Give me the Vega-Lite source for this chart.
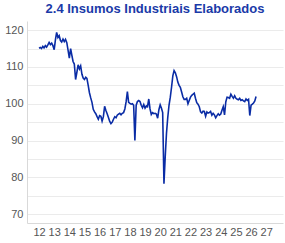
{
  "$schema": "https://vega.github.io/schema/vega-lite/v6.json",
  "autosize": {"type": "none"},
  "width": 256,
  "height": 202,
  "padding": {"left": 27, "top": 21, "right": 2, "bottom": 20},
  "title": {"text": "2.4 Insumos Industriais Elaborados", "font": "Liberation Sans", "fontSize": 13, "fontWeight": "bold", "color": "#1a3aa8", "anchor": "middle", "offset": 5},
  "config": {"view": {"stroke": null}},
  "data": {"values": [
    {"date": "2012-01-01", "v": 115.1}, {"date": "2012-02-01", "v": 115.3}, {"date": "2012-03-01", "v": 115.0}, {"date": "2012-04-01", "v": 115.6}, {"date": "2012-05-01", "v": 115.2}, {"date": "2012-06-01", "v": 115.8}, {"date": "2012-07-01", "v": 115.4}, {"date": "2012-08-01", "v": 116.0}, {"date": "2012-09-01", "v": 116.7}, {"date": "2012-10-01", "v": 116.1}, {"date": "2012-11-01", "v": 116.5}, {"date": "2012-12-01", "v": 115.8},
    {"date": "2013-01-01", "v": 114.7}, {"date": "2013-02-01", "v": 117.5}, {"date": "2013-03-01", "v": 119.4}, {"date": "2013-04-01", "v": 118.0}, {"date": "2013-05-01", "v": 118.5}, {"date": "2013-06-01", "v": 117.2}, {"date": "2013-07-01", "v": 116.8}, {"date": "2013-08-01", "v": 117.6}, {"date": "2013-09-01", "v": 116.9}, {"date": "2013-10-01", "v": 117.5}, {"date": "2013-11-01", "v": 116.6}, {"date": "2013-12-01", "v": 114.6},
    {"date": "2014-01-01", "v": 112.4}, {"date": "2014-02-01", "v": 115.0}, {"date": "2014-03-01", "v": 113.3}, {"date": "2014-04-01", "v": 111.5}, {"date": "2014-05-01", "v": 110.8}, {"date": "2014-06-01", "v": 106.6}, {"date": "2014-07-01", "v": 108.5}, {"date": "2014-08-01", "v": 110.6}, {"date": "2014-09-01", "v": 109.5}, {"date": "2014-10-01", "v": 110.3}, {"date": "2014-11-01", "v": 108.0}, {"date": "2014-12-01", "v": 107.0},
    {"date": "2015-01-01", "v": 106.6}, {"date": "2015-02-01", "v": 107.2}, {"date": "2015-03-01", "v": 106.9}, {"date": "2015-04-01", "v": 105.0}, {"date": "2015-05-01", "v": 103.0}, {"date": "2015-06-01", "v": 101.6}, {"date": "2015-07-01", "v": 100.4}, {"date": "2015-08-01", "v": 98.5}, {"date": "2015-09-01", "v": 97.8}, {"date": "2015-10-01", "v": 97.3}, {"date": "2015-11-01", "v": 96.5}, {"date": "2015-12-01", "v": 95.8},
    {"date": "2016-01-01", "v": 96.8}, {"date": "2016-02-01", "v": 96.6}, {"date": "2016-03-01", "v": 95.3}, {"date": "2016-04-01", "v": 96.5}, {"date": "2016-05-01", "v": 99.3}, {"date": "2016-06-01", "v": 98.2}, {"date": "2016-07-01", "v": 97.3}, {"date": "2016-08-01", "v": 96.3}, {"date": "2016-09-01", "v": 95.2}, {"date": "2016-10-01", "v": 94.6}, {"date": "2016-11-01", "v": 95.0}, {"date": "2016-12-01", "v": 95.8},
    {"date": "2017-01-01", "v": 96.5}, {"date": "2017-02-01", "v": 96.2}, {"date": "2017-03-01", "v": 96.9}, {"date": "2017-04-01", "v": 97.2}, {"date": "2017-05-01", "v": 97.4}, {"date": "2017-06-01", "v": 97.0}, {"date": "2017-07-01", "v": 97.4}, {"date": "2017-08-01", "v": 97.6}, {"date": "2017-09-01", "v": 98.6}, {"date": "2017-10-01", "v": 100.5}, {"date": "2017-11-01", "v": 103.3}, {"date": "2017-12-01", "v": 100.4},
    {"date": "2018-01-01", "v": 100.1}, {"date": "2018-02-01", "v": 99.9}, {"date": "2018-03-01", "v": 100.0}, {"date": "2018-04-01", "v": 99.6}, {"date": "2018-05-01", "v": 90.0}, {"date": "2018-06-01", "v": 99.6}, {"date": "2018-07-01", "v": 100.6}, {"date": "2018-08-01", "v": 100.9}, {"date": "2018-09-01", "v": 100.6}, {"date": "2018-10-01", "v": 99.6}, {"date": "2018-11-01", "v": 98.9}, {"date": "2018-12-01", "v": 99.8},
    {"date": "2019-01-01", "v": 98.8}, {"date": "2019-02-01", "v": 99.4}, {"date": "2019-03-01", "v": 99.2}, {"date": "2019-04-01", "v": 101.3}, {"date": "2019-05-01", "v": 98.6}, {"date": "2019-06-01", "v": 97.1}, {"date": "2019-07-01", "v": 97.6}, {"date": "2019-08-01", "v": 97.3}, {"date": "2019-09-01", "v": 97.4}, {"date": "2019-10-01", "v": 97.2}, {"date": "2019-11-01", "v": 96.1}, {"date": "2019-12-01", "v": 98.4},
    {"date": "2020-01-01", "v": 99.7}, {"date": "2020-02-01", "v": 98.8}, {"date": "2020-03-01", "v": 97.6}, {"date": "2020-04-01", "v": 78.3}, {"date": "2020-05-01", "v": 85.5}, {"date": "2020-06-01", "v": 92.0}, {"date": "2020-07-01", "v": 96.2}, {"date": "2020-08-01", "v": 99.6}, {"date": "2020-09-01", "v": 101.8}, {"date": "2020-10-01", "v": 104.5}, {"date": "2020-11-01", "v": 107.6}, {"date": "2020-12-01", "v": 109.0},
    {"date": "2021-01-01", "v": 108.4}, {"date": "2021-02-01", "v": 107.3}, {"date": "2021-03-01", "v": 105.9}, {"date": "2021-04-01", "v": 105.0}, {"date": "2021-05-01", "v": 104.5}, {"date": "2021-06-01", "v": 103.2}, {"date": "2021-07-01", "v": 101.9}, {"date": "2021-08-01", "v": 101.2}, {"date": "2021-09-01", "v": 101.2}, {"date": "2021-10-01", "v": 101.5}, {"date": "2021-11-01", "v": 100.0}, {"date": "2021-12-01", "v": 100.9},
    {"date": "2022-01-01", "v": 101.8}, {"date": "2022-02-01", "v": 102.3}, {"date": "2022-03-01", "v": 102.6}, {"date": "2022-04-01", "v": 102.9}, {"date": "2022-05-01", "v": 101.5}, {"date": "2022-06-01", "v": 100.3}, {"date": "2022-07-01", "v": 99.9}, {"date": "2022-08-01", "v": 99.2}, {"date": "2022-09-01", "v": 97.8}, {"date": "2022-10-01", "v": 97.5}, {"date": "2022-11-01", "v": 98.0}, {"date": "2022-12-01", "v": 97.9},
    {"date": "2023-01-01", "v": 96.6}, {"date": "2023-02-01", "v": 97.8}, {"date": "2023-03-01", "v": 97.5}, {"date": "2023-04-01", "v": 97.6}, {"date": "2023-05-01", "v": 97.9}, {"date": "2023-06-01", "v": 96.9}, {"date": "2023-07-01", "v": 97.4}, {"date": "2023-08-01", "v": 97.0}, {"date": "2023-09-01", "v": 96.2}, {"date": "2023-10-01", "v": 96.8}, {"date": "2023-11-01", "v": 97.3}, {"date": "2023-12-01", "v": 96.9},
    {"date": "2024-01-01", "v": 97.2}, {"date": "2024-02-01", "v": 98.3}, {"date": "2024-03-01", "v": 99.2}, {"date": "2024-04-01", "v": 97.0}, {"date": "2024-05-01", "v": 100.5}, {"date": "2024-06-01", "v": 101.8}, {"date": "2024-07-01", "v": 101.7}, {"date": "2024-08-01", "v": 101.5}, {"date": "2024-09-01", "v": 102.6}, {"date": "2024-10-01", "v": 102.0}, {"date": "2024-11-01", "v": 101.5}, {"date": "2024-12-01", "v": 102.2},
    {"date": "2025-01-01", "v": 101.5}, {"date": "2025-02-01", "v": 101.2}, {"date": "2025-03-01", "v": 101.1}, {"date": "2025-04-01", "v": 101.5}, {"date": "2025-05-01", "v": 100.9}, {"date": "2025-06-01", "v": 101.1}, {"date": "2025-07-01", "v": 100.8}, {"date": "2025-08-01", "v": 100.6}, {"date": "2025-09-01", "v": 101.3}, {"date": "2025-10-01", "v": 100.9}, {"date": "2025-11-01", "v": 101.2}, {"date": "2025-12-01", "v": 96.8},
    {"date": "2026-01-01", "v": 99.6}, {"date": "2026-02-01", "v": 99.9}, {"date": "2026-03-01", "v": 100.2}, {"date": "2026-04-01", "v": 100.8}, {"date": "2026-05-01", "v": 102.0}
  ]},
  "mark": {"type": "line", "color": "#0a2ca5", "strokeWidth": 1.6},
  "encoding": {
    "x": {
      "field": "date", "type": "temporal",
      "scale": {"type": "utc", "nice": false, "domain": [{"year": 2011, "month": 3, "date": 17, "utc": true}, {"year": 2028, "month": 2, "date": 10, "utc": true}]},
      "axis": {"title": null, "format": "%y", "tickCount": {"interval": "year", "step": 1}, "labelExpr": "utcyear(datum.value) <= 2027 ? datum.label : ''", "grid": false, "ticks": false, "labelPadding": 3, "labelOverlap": false, "labelFlush": false, "labelFont": "Liberation Sans", "labelFontSize": 11, "labelColor": "#555555", "domainColor": "#d9d9d9", "domainWidth": 1}
    },
    "y": {
      "field": "v", "type": "quantitative",
      "scale": {"domain": [67.6, 122.5], "nice": false, "zero": false},
      "axis": {"title": null, "values": [70, 75, 80, 85, 90, 95, 100, 105, 110, 115, 120], "labelExpr": "datum.value % 10 === 0 ? datum.label : ''", "grid": true, "gridColor": "#ebebeb", "ticks": false, "labelPadding": 4, "labelFont": "Liberation Sans", "labelFontSize": 11, "labelColor": "#555555", "domainColor": "#d9d9d9", "domainWidth": 1}
    }
  }
}
